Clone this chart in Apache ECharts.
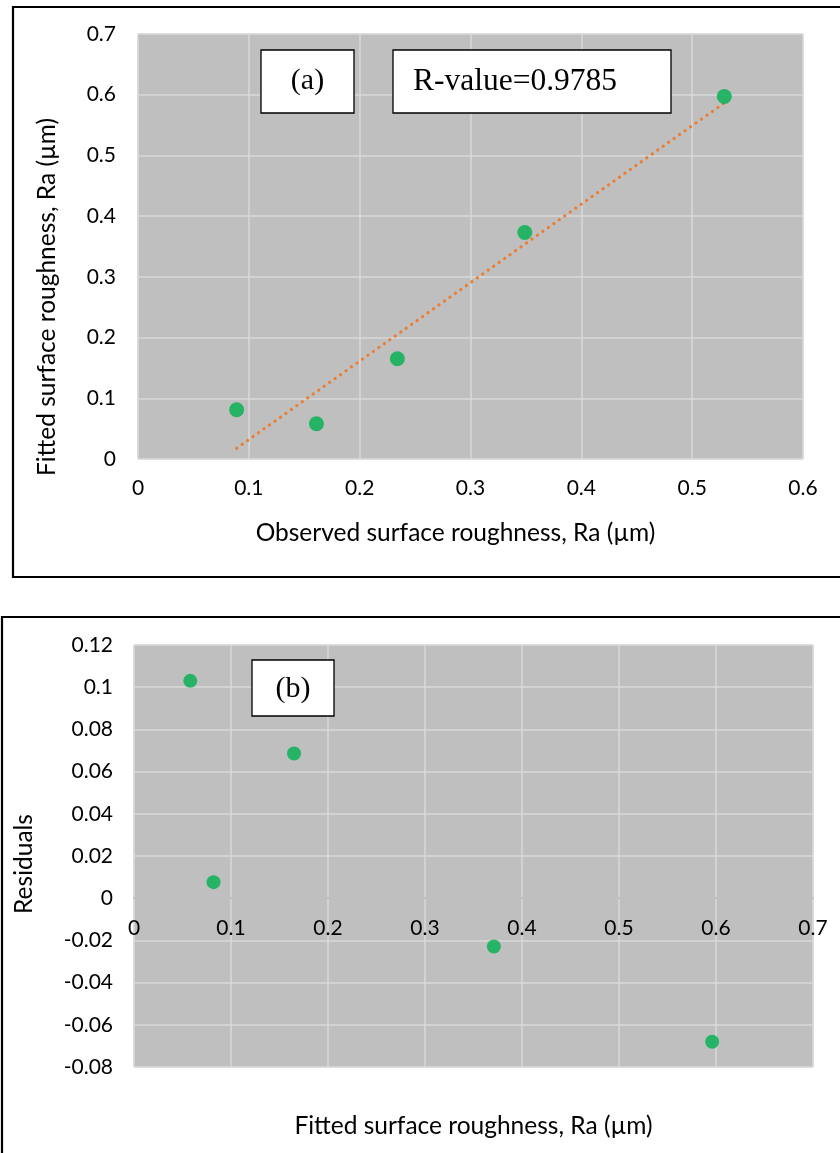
<!DOCTYPE html>
<html>
<head>
<meta charset="utf-8">
<script src="https://cdn.jsdelivr.net/npm/echarts@6/dist/echarts.min.js"></script>
<style>
html,body{margin:0;padding:0;background:#fff;}
#chart{width:840px;height:1153px;}
</style>
</head>
<body>
<div id="chart"></div>
<script>
// ---- Data ----
const observedRa = [0.089, 0.161, 0.234, 0.349, 0.529];
const fittedRa   = [0.081, 0.058, 0.165, 0.373, 0.597];
const residualX  = [0.058, 0.165, 0.082, 0.371, 0.596];
const residualY  = [0.103, 0.0686, 0.0076, -0.0229, -0.068];
const rValueText = 'R-value=0.9785';
const labelA = '(a)';
const labelB = '(b)';
const xTitleA = 'Observed surface roughness, Ra (µm)';
const yTitleA = 'Fitted surface roughness, Ra (µm)';
const xTitleB = 'Fitted surface roughness, Ra (µm)';
const yTitleB = 'Residuals';
const residualMin = -0.08, residualMax = 0.12;

// linear trendline (least squares) of fitted vs observed
function linfit(xs, ys){
  const n = xs.length;
  const mx = xs.reduce((a,b)=>a+b,0)/n, my = ys.reduce((a,b)=>a+b,0)/n;
  let sxy=0, sxx=0;
  for(let i=0;i<n;i++){ sxy+=(xs[i]-mx)*(ys[i]-my); sxx+=(xs[i]-mx)*(xs[i]-mx); }
  const m = sxy/sxx; return {m, b: my - m*mx};
}
const fit = linfit(observedRa, fittedRa);
const xMinObs = Math.min(...observedRa), xMaxObs = Math.max(...observedRa);
const trend = [[xMinObs, fit.m*xMinObs+fit.b],[xMaxObs, fit.m*xMaxObs+fit.b]];

const FONT = 'Lato, "Open Sans", sans-serif';
const SERIF = '"Liberation Serif", "Times New Roman", serif';
const fmt = v => String(parseFloat(v.toFixed(3)));
const gridLine = {show:true, lineStyle:{color:'#D9D9D9', width:1.5}};
const labelStyle = {color:'#000', fontFamily:FONT, fontSize:21};
const nameStyle = {color:'#000', fontFamily:FONT, fontSize:24.5};

// bottom grid geometry; x axis crosses at residual = 0
const gridB = {left:134, top:645, width:679, height:422};
const zeroOffset = -gridB.height * (0 - residualMin) / (residualMax - residualMin);

const chart = echarts.init(document.getElementById('chart'), null, {renderer:'canvas'});
chart.setOption({
  animation:false,
  backgroundColor:'#fff',
  grid:[
    {left:138, top:34, width:665, height:425, show:true, backgroundColor:'#BFBFBF', borderColor:'#D0D0D0', borderWidth:1, containLabel:false, outerBoundsMode:'none'},
    {...gridB, show:true, backgroundColor:'#BFBFBF', borderColor:'#D0D0D0', borderWidth:1, containLabel:false, outerBoundsMode:'none'}
  ],
  xAxis:[
    {gridIndex:0, type:'value', min:0, max:0.6, interval:0.1,
     axisLine:{show:false}, axisTick:{show:false}, splitLine:gridLine,
     axisLabel:{...labelStyle, margin:19, formatter:fmt},
     name:xTitleA, nameLocation:'middle', nameGap:62, nameTextStyle:{...nameStyle, padding:[0,30,0,0]}},
    {gridIndex:1, type:'value', min:0, max:0.7, interval:0.1, offset:zeroOffset,
     axisLine:{show:true, onZero:false, lineStyle:{color:'#BFBFBF', width:2}}, axisTick:{show:false}, splitLine:gridLine,
     axisLabel:{...labelStyle, margin:20, formatter:fmt},
     name:xTitleB, nameLocation:'middle', nameGap:215, nameTextStyle:nameStyle}
  ],
  yAxis:[
    {gridIndex:0, type:'value', min:0, max:0.7, interval:0.1,
     axisLine:{show:false}, axisTick:{show:false}, splitLine:gridLine,
     axisLabel:{...labelStyle, margin:22, formatter:fmt}},
    {gridIndex:1, type:'value', min:residualMin, max:residualMax, interval:0.02,
     axisLine:{show:false}, axisTick:{show:false}, splitLine:gridLine,
     axisLabel:{...labelStyle, margin:21, formatter:fmt},
     name:yTitleB, nameLocation:'middle', nameGap:97, nameTextStyle:{...nameStyle, padding:[0,16,0,0]}}
  ],
  series:[
    {type:'line', xAxisIndex:0, yAxisIndex:0, data:trend, showSymbol:false, symbol:'none', z:2,
     lineStyle:{color:'#ED7D31', width:3.2, type:[0.1,6.6], cap:'round'}},
    {type:'scatter', xAxisIndex:0, yAxisIndex:0, symbolSize:15, z:3,
     itemStyle:{color:'#00B050'}, data:observedRa.map((x,i)=>[x, fittedRa[i]])},
    {type:'scatter', xAxisIndex:1, yAxisIndex:1, symbolSize:14, z:3,
     itemStyle:{color:'#00B050'}, data:residualX.map((x,i)=>[x, residualY[i]])}
  ],
  graphic:[
    {type:'rect', shape:{x:13, y:7, width:840, height:570}, style:{fill:null, stroke:'#000', lineWidth:2.2}, z:10},
    {type:'rect', shape:{x:2, y:617, width:850, height:560}, style:{fill:null, stroke:'#000', lineWidth:2.2}, z:10},
    {type:'text', x:47, y:297, rotation:Math.PI/2, style:{text:yTitleA, font:'24.5px '+FONT, fill:'#000', align:'center', verticalAlign:'middle'}, z:5},
    {type:'rect', shape:{x:261, y:50, width:93, height:63}, style:{fill:'#fff', stroke:'#000', lineWidth:1.3}, z:20},
    {type:'text', x:307.5, y:81.5, style:{text:labelA, font:'30px '+SERIF, fill:'#000', align:'center', verticalAlign:'middle'}, z:21},
    {type:'rect', shape:{x:393, y:50, width:278, height:63}, style:{fill:'#fff', stroke:'#000', lineWidth:1.3}, z:20},
    {type:'text', x:413, y:81.5, style:{text:rValueText, font:'31.5px '+SERIF, fill:'#000', align:'left', verticalAlign:'middle'}, z:21},
    {type:'rect', shape:{x:252, y:660, width:82, height:56}, style:{fill:'#fff', stroke:'#000', lineWidth:1.3}, z:20},
    {type:'text', x:293, y:689, style:{text:labelB, font:'30px '+SERIF, fill:'#000', align:'center', verticalAlign:'middle'}, z:21}
  ]
});
</script>
</body>
</html>
